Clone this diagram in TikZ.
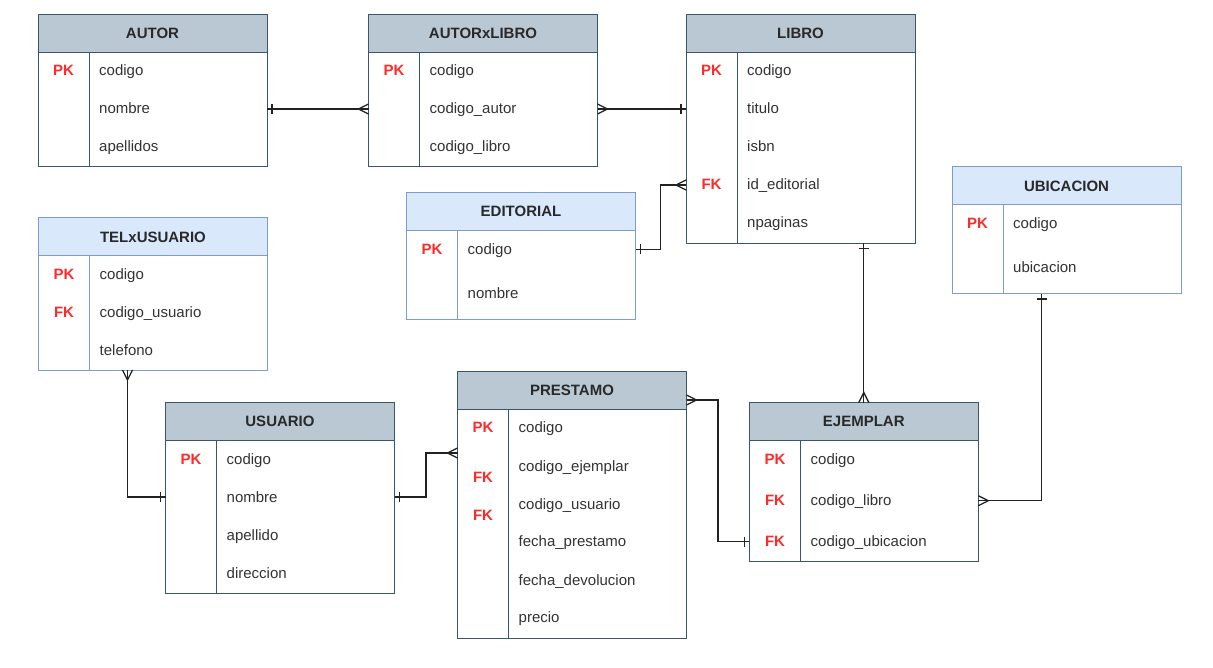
\documentclass[tikz,border=0pt]{standalone}
\usepackage{fontspec}
\setmainfont{Liberation Sans}
\usetikzlibrary{arrows.meta}
\definecolor{darkfill}{HTML}{BAC8D3}
\definecolor{darkline}{HTML}{3A566C}
\definecolor{lightfill}{HTML}{DAE8FC}
\definecolor{lightline}{HTML}{7D9DCB}
\definecolor{keyred}{HTML}{FF2A2A}
\definecolor{txt}{HTML}{333333}
\definecolor{conn}{HTML}{222222}

\pgfdeclarearrow{
  name=Crow,
  setup code={
    \pgfarrowssettipend{0pt}
    \pgfarrowssetlineend{0pt}
    \pgfarrowssetbackend{-10pt}
    \pgfarrowssetvisualbackend{-10pt}
  },
  drawing code={
    \pgfsetdash{}{0pt}
    \pgfpathmoveto{\pgfqpoint{0pt}{5pt}}
    \pgfpathlineto{\pgfqpoint{-10pt}{0pt}}
    \pgfpathlineto{\pgfqpoint{0pt}{-5pt}}
    \pgfusepathqstroke
  }
}
\pgfdeclarearrow{
  name=One,
  setup code={
    \pgfarrowssettipend{0pt}
    \pgfarrowssetlineend{0pt}
    \pgfarrowssetbackend{-7pt}
    \pgfarrowssetvisualbackend{-7pt}
  },
  drawing code={
    \pgfsetdash{}{0pt}
    \pgfpathmoveto{\pgfqpoint{-5pt}{5pt}}
    \pgfpathlineto{\pgfqpoint{-5pt}{-5pt}}
    \pgfusepathqstroke
  }
}

\tikzset{
  tbl/.style={rectangle, fill=white, line width=1pt, minimum width=229pt,
    inner sep=0pt, outer sep=0pt, anchor=north west},
  hdr/.style={rectangle, line width=1pt, minimum width=229pt, minimum height=38pt,
    inner sep=0pt, outer sep=0pt, anchor=north west, text=txt!80!black,
    font=\fontsize{15}{18}\selectfont\bfseries},
  ftxt/.style={anchor=west, inner sep=0pt, text=txt, text height=12pt, text depth=2pt,
    font=\fontsize{15}{18}\selectfont},
  ktxt/.style={anchor=center, inner sep=0pt, text=keyred, text height=12pt, text depth=2pt,
    font=\fontsize{15}{18}\selectfont\bfseries},
  rel/.style={draw=conn, line width=1.3pt},
}

\newcommand{\ertable}[6]{%
  \node[tbl, draw=#2line, minimum height=#5pt] (#1) at (#3,#4) {};
  \node[hdr, fill=#2fill, draw=#2line] (#1-h) at (#3,#4) {#6};
  \draw[draw=#2line, line width=1pt] ([xshift=51pt]#1-h.south west) -- ([xshift=51pt]#1.south west);
}
\newcommand{\fld}[4]{\node[ftxt] (#1) at (#2,#3) {#4};}
\newcommand{\kfld}[4]{\node[ktxt] (#1) at (#2,#3) {#4};}

\begin{document}
\begin{tikzpicture}[x=1pt,y=-1pt]
\useasboundingbox[fill=white] (0,0) rectangle (1213,668);

% AUTOR
\ertable{autor}{dark}{38}{14.5}{152}{AUTOR}
\kfld{autor-pk}{63.5}{71}{PK}
\fld{autor-codigo}{99}{71}{codigo}
\fld{autor-nombre}{99}{109}{nombre}
\fld{autor-apellidos}{99}{147}{apellidos}

% AUTORxLIBRO
\ertable{axl}{dark}{368.5}{14.5}{152}{AUTORxLIBRO}
\kfld{axl-pk}{394}{71}{PK}
\fld{axl-codigo}{429.5}{71}{codigo}
\fld{axl-autor}{429.5}{109}{codigo\_autor}
\fld{axl-libro}{429.5}{147}{codigo\_libro}

% LIBRO
\ertable{libro}{dark}{686}{14.5}{229}{LIBRO}
\kfld{libro-pk}{711.5}{71}{PK}
\kfld{libro-fk}{711.5}{185}{FK}
\fld{libro-codigo}{747}{71}{codigo}
\fld{libro-titulo}{747}{109}{titulo}
\fld{libro-isbn}{747}{147}{isbn}
\fld{libro-ided}{747}{185}{id\_editorial}
\fld{libro-npag}{747}{223}{npaginas}

% EDITORIAL
\ertable{editorial}{light}{406.5}{192.5}{127}{EDITORIAL}
\kfld{ed-pk}{432}{249.3}{PK}
\fld{ed-codigo}{467.5}{249.3}{codigo}
\fld{ed-nombre}{467.5}{294}{nombre}

% UBICACION
\ertable{ubicacion}{light}{952}{167}{127}{UBICACION}
\kfld{ub-pk}{977.5}{224}{PK}
\fld{ub-codigo}{1013}{224}{codigo}
\fld{ub-ubicacion}{1013}{268}{ubicacion}

% TELxUSUARIO
\ertable{tel}{light}{38.5}{218}{152}{TELxUSUARIO}
\kfld{tel-pk}{64}{274.3}{PK}
\kfld{tel-fk}{64}{312.3}{FK}
\fld{tel-codigo}{99.5}{274.3}{codigo}
\fld{tel-usuario}{99.5}{312.3}{codigo\_usuario}
\fld{tel-telefono}{99.5}{350.3}{telefono}

% USUARIO
\ertable{usuario}{dark}{165.5}{402.5}{191}{USUARIO}
\kfld{us-pk}{191}{459.3}{PK}
\fld{us-codigo}{226.5}{459.3}{codigo}
\fld{us-nombre}{226.5}{497}{nombre}
\fld{us-apellido}{226.5}{535}{apellido}
\fld{us-direccion}{226.5}{573}{direccion}

% PRESTAMO
\ertable{prestamo}{dark}{457.5}{371}{267}{PRESTAMO}
\kfld{pr-pk}{483}{427.7}{PK}
\kfld{pr-fk1}{483}{477}{FK}
\kfld{pr-fk2}{483}{515}{FK}
\fld{pr-codigo}{518.5}{427.7}{codigo}
\fld{pr-ejemplar}{518.5}{466}{codigo\_ejemplar}
\fld{pr-usuario}{518.5}{504}{codigo\_usuario}
\fld{pr-fprest}{518.5}{541.7}{fecha\_prestamo}
\fld{pr-fdev}{518.5}{580}{fecha\_devolucion}
\fld{pr-precio}{518.5}{617.7}{precio}

% EJEMPLAR
\ertable{ejemplar}{dark}{749.3}{402.5}{159}{EJEMPLAR}
\kfld{ej-pk}{775}{459}{PK}
\kfld{ej-fk1}{775}{500.7}{FK}
\kfld{ej-fk2}{775}{541.7}{FK}
\fld{ej-codigo}{810.5}{459}{codigo}
\fld{ej-libro}{810.5}{500.7}{codigo\_libro}
\fld{ej-ubic}{810.5}{541.7}{codigo\_ubicacion}

% Relationships
\draw[rel, One-Crow] (autor.east |- autor-nombre) -- (axl.west |- autor-nombre);
\draw[rel, Crow-One] (axl.east |- axl-autor) -- (libro.west |- axl-autor);
\draw[rel, One-Crow] (editorial.east |- ed-codigo) -- ++(25,0) |- (libro.west |- libro-ided);
\draw[rel, One-Crow] (libro.south -| ejemplar.north) -- (ejemplar.north);
\draw[rel, One-Crow] ([xshift=-25pt]ubicacion.south) |- (ejemplar.east |- ej-libro);
\draw[rel, Crow-One] ([xshift=-25.5pt]tel.south) |- (usuario.west |- us-nombre);
\draw[rel, One-Crow] (usuario.east |- us-nombre) -- ++(31.5,0) |- ([yshift=-82pt]prestamo.north west);
\draw[rel, Crow-One] ([yshift=-29pt]prestamo.north east) -- ++(31.5,0) |- (ejemplar.west |- ej-ubic);
\end{tikzpicture}
\end{document}
